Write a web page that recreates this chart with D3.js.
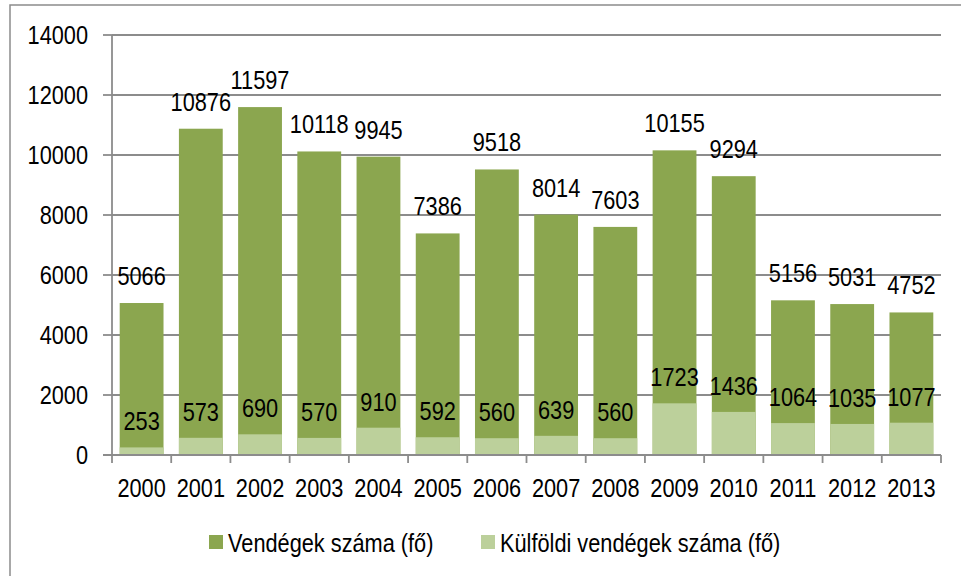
<!DOCTYPE html>
<html>
<head>
<meta charset="utf-8">
<script src="https://cdn.jsdelivr.net/npm/d3@7/dist/d3.min.js"></script>
<style>
  html, body { margin: 0; padding: 0; background: #fff; }
  svg text { font-family: "Liberation Sans", Arial, sans-serif; fill: #000; }
</style>
</head>
<body>
<svg id="chart" width="961" height="576"></svg>
<script>
// Guest numbers per year
const years = ["2000","2001","2002","2003","2004","2005","2006","2007","2008","2009","2010","2011","2012","2013"];
const guestsTotal = [5066,10876,11597,10118,9945,7386,9518,8014,7603,10155,9294,5156,5031,4752];
const guestsForeign = [253,573,690,570,910,592,560,639,560,1723,1436,1064,1035,1077];
const yTicks = [0,2000,4000,6000,8000,10000,12000,14000];
const seriesNames = ["Vendégek száma (fő)", "Külföldi vendégek száma (fő)"];
const seriesColors = ["#8ba64f", "#bcd09b"];

const svg = d3.select("#chart");
const margin = { left: 112, right: 20, top: 35, bottom: 121 };
const fontSize = 25, squeeze = 0.87;

// outer frame (left and top edge)
svg.append("path")
  .attr("d", `M10,576 L10,5 L961,5`)
  .attr("fill", "none").attr("stroke", "#8c8c8c").attr("stroke-width", 1.5);

const x = d3.scaleBand()
  .domain(years)
  .range([margin.left, 941])
  .paddingInner(0.26)
  .paddingOuter(0.13);

const y = d3.scaleLinear()
  .domain([0, 14000])
  .range([455, 35]);

// helper: condensed text
function label(g, tx, ty, text, anchor) {
  g.append("text")
    .attr("transform", `translate(${tx},${ty}) scale(${squeeze},1)`)
    .attr("text-anchor", anchor)
    .attr("font-size", fontSize)
    .text(text);
}

// gridlines
svg.append("g").selectAll("line")
  .data(yTicks.filter(d => d > 0))
  .join("line")
  .attr("x1", margin.left).attr("x2", 941)
  .attr("y1", d => y(d)).attr("y2", d => y(d))
  .attr("stroke", "#8c8c8c").attr("stroke-width", 1.8);

// bars: total guests, foreign guests drawn over from zero
const bars = svg.append("g");
bars.selectAll("rect.total")
  .data(years.map((yr, i) => ({ yr, v: guestsTotal[i] })))
  .join("rect")
  .attr("class", "total")
  .attr("x", d => x(d.yr)).attr("width", x.bandwidth())
  .attr("y", d => y(d.v)).attr("height", d => y(0) - y(d.v))
  .attr("fill", seriesColors[0]);
bars.selectAll("rect.foreign")
  .data(years.map((yr, i) => ({ yr, v: guestsForeign[i] })))
  .join("rect")
  .attr("class", "foreign")
  .attr("x", d => x(d.yr)).attr("width", x.bandwidth())
  .attr("y", d => y(d.v)).attr("height", d => y(0) - y(d.v))
  .attr("fill", seriesColors[1]);

// y axis
const yAxis = svg.append("g");
yAxis.append("line")
  .attr("x1", margin.left).attr("x2", margin.left)
  .attr("y1", y(14000)).attr("y2", y(0))
  .attr("stroke", "#8c8c8c").attr("stroke-width", 1.8);
yAxis.selectAll("line.tick")
  .data(yTicks)
  .join("line")
  .attr("class", "tick")
  .attr("x1", 103).attr("x2", margin.left)
  .attr("y1", d => y(d)).attr("y2", d => y(d))
  .attr("stroke", "#8c8c8c").attr("stroke-width", 1.8);
yTicks.forEach(t => label(yAxis, 88, y(t) + 9, String(t), "end"));

// x axis
const xAxis = svg.append("g");
xAxis.append("line")
  .attr("x1", 103).attr("x2", 941)
  .attr("y1", y(0)).attr("y2", y(0))
  .attr("stroke", "#8c8c8c").attr("stroke-width", 1.8);
const bounds = years.map(yr => x(yr) - x.step() * x.paddingInner() / 2)
  .concat([941]);
xAxis.selectAll("line.tick")
  .data(bounds)
  .join("line")
  .attr("class", "tick")
  .attr("x1", d => d).attr("x2", d => d)
  .attr("y1", y(0)).attr("y2", y(0) + 8)
  .attr("stroke", "#8c8c8c").attr("stroke-width", 1.8);
years.forEach(yr => label(xAxis, x(yr) + x.bandwidth() / 2, 497, yr, "middle"));

// value labels
const labels = svg.append("g");
years.forEach((yr, i) => {
  const cx = x(yr) + x.bandwidth() / 2;
  label(labels, cx, y(guestsTotal[i]) - 18, String(guestsTotal[i]), "middle");
  label(labels, cx, y(guestsForeign[i]) - 17, String(guestsForeign[i]), "middle");
});

// legend
const legend = svg.append("g");
const legendItems = [{ x: 209, i: 0 }, { x: 481, i: 1 }];
legendItems.forEach(it => {
  legend.append("rect")
    .attr("x", it.x).attr("y", 535).attr("width", 14).attr("height", 14)
    .attr("fill", seriesColors[it.i]);
  label(legend, it.x + 19, 552, seriesNames[it.i], "start");
});
</script>
</body>
</html>
